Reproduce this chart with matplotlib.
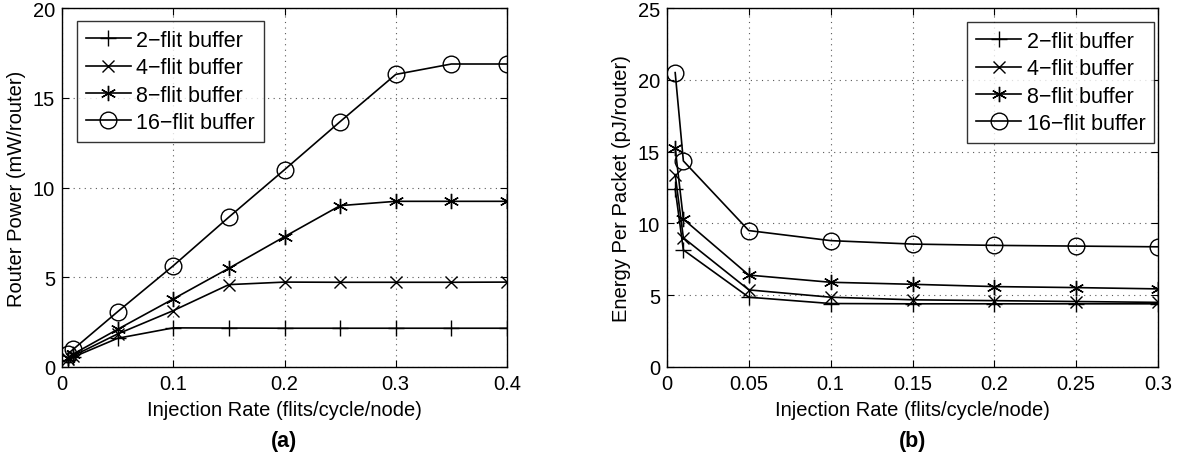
import numpy as np
import matplotlib
matplotlib.use("Agg")
import matplotlib.pyplot as plt

plt.rcParams["font.family"] = ["Liberation Sans", "DejaVu Sans"]

# (a) router power vs injection rate
rate_a = [0.005, 0.01, 0.05, 0.1, 0.15, 0.2, 0.25, 0.3, 0.35, 0.4]
power_2 = [0.40, 0.55, 1.60, 2.18, 2.17, 2.16, 2.16, 2.16, 2.16, 2.16]
power_4 = [0.45, 0.62, 1.84, 3.14, 4.59, 4.73, 4.72, 4.72, 4.72, 4.73]
power_8 = [0.50, 0.72, 2.10, 3.79, 5.50, 7.26, 8.99, 9.23, 9.23, 9.23]
power_16 = [0.72, 0.98, 3.08, 5.64, 8.35, 10.99, 13.67, 16.30, 16.88, 16.88]

# (b) energy per packet vs injection rate
rate_b = [0.005, 0.01, 0.05, 0.1, 0.15, 0.2, 0.25, 0.3]
energy_2 = [12.4, 8.15, 4.86, 4.42, 4.40, 4.40, 4.40, 4.40]
energy_4 = [13.4, 9.0, 5.37, 4.86, 4.68, 4.62, 4.56, 4.50]
energy_8 = [15.25, 10.3, 6.4, 5.9, 5.76, 5.6, 5.53, 5.44]
energy_16 = [20.5, 14.35, 9.5, 8.8, 8.56, 8.47, 8.42, 8.37]

labels = ["2\u2212flit buffer", "4\u2212flit buffer", "8\u2212flit buffer", "16\u2212flit buffer"]
markers = ["+", "x", (6, 2, 0), "o"]
msizes = [12, 8, 11, 12]

W, H = 1180, 464
fig = plt.figure(figsize=(W / 100, H / 100), dpi=100)
ax1 = fig.add_axes([62 / W, 96 / H, 445 / W, 359 / H])
ax2 = fig.add_axes([667 / W, 96 / H, 491 / W, 359 / H])


def style_axes(ax):
    ax.grid(True, linestyle=(0, (1, 4)), color="0.35", linewidth=0.8)
    ax.tick_params(direction="in", top=True, right=True, labelsize=14.5,
                   length=5, width=0.8, pad=5)
    for s in ax.spines.values():
        s.set_linewidth(1.0)


def add_legend(ax, loc, anchor):
    leg = ax.legend(loc=loc, bbox_to_anchor=anchor, borderaxespad=0,
                    fontsize=15.5, fancybox=False, edgecolor="black",
                    handlelength=2.1, handletextpad=0.25, borderpad=0.4,
                    labelspacing=0.3)
    leg.get_frame().set_linewidth(1.0)
    return leg


series_a = [power_2, power_4, power_8, power_16]
for ys, lab, m, ms in zip(series_a, labels, markers, msizes):
    ax1.plot(rate_a, ys, color="black", linewidth=1.2, marker=m, markersize=ms,
             markerfacecolor="none", markeredgecolor="black", markeredgewidth=1.0,
             label=lab)
ax1.set_xlim(0, 0.4)
ax1.set_ylim(0, 20)
ax1.set_xticks([0, 0.1, 0.2, 0.3, 0.4])
ax1.set_xticklabels(["0", "0.1", "0.2", "0.3", "0.4"])
ax1.set_yticks([0, 5, 10, 15, 20])
style_axes(ax1)
ax1.set_xlabel("Injection Rate (flits/cycle/node)", fontsize=14.5, labelpad=5)
ax1.set_ylabel("Router Power (mW/router)", fontsize=14.5, labelpad=5)
add_legend(ax1, "upper left", (15 / 445, 1 - 13 / 359))

series_b = [energy_2, energy_4, energy_8, energy_16]
for ys, lab, m, ms in zip(series_b, labels, markers, msizes):
    ax2.plot(rate_b, ys, color="black", linewidth=1.2, marker=m, markersize=ms,
             markerfacecolor="none", markeredgecolor="black", markeredgewidth=1.0,
             label=lab)
ax2.set_xlim(0, 0.3)
ax2.set_ylim(0, 25)
ax2.set_xticks([0, 0.05, 0.1, 0.15, 0.2, 0.25, 0.3])
ax2.set_xticklabels(["0", "0.05", "0.1", "0.15", "0.2", "0.25", "0.3"])
ax2.set_yticks([0, 5, 10, 15, 20, 25])
style_axes(ax2)
ax2.set_xlabel("Injection Rate (flits/cycle/node)", fontsize=14.5, labelpad=5)
ax2.set_ylabel("Energy Per Packet (pJ/router)", fontsize=14.5, labelpad=5)
add_legend(ax2, "upper right", (1 - 4 / 491, 1 - 14 / 359))

fig.text(284 / W, 1 - 441 / H, "(a)", ha="center", va="center",
         fontsize=15.5, fontweight="bold")
fig.text(913 / W, 1 - 441 / H, "(b)", ha="center", va="center",
         fontsize=15.5, fontweight="bold")

fig.savefig("out.png", dpi=100)
